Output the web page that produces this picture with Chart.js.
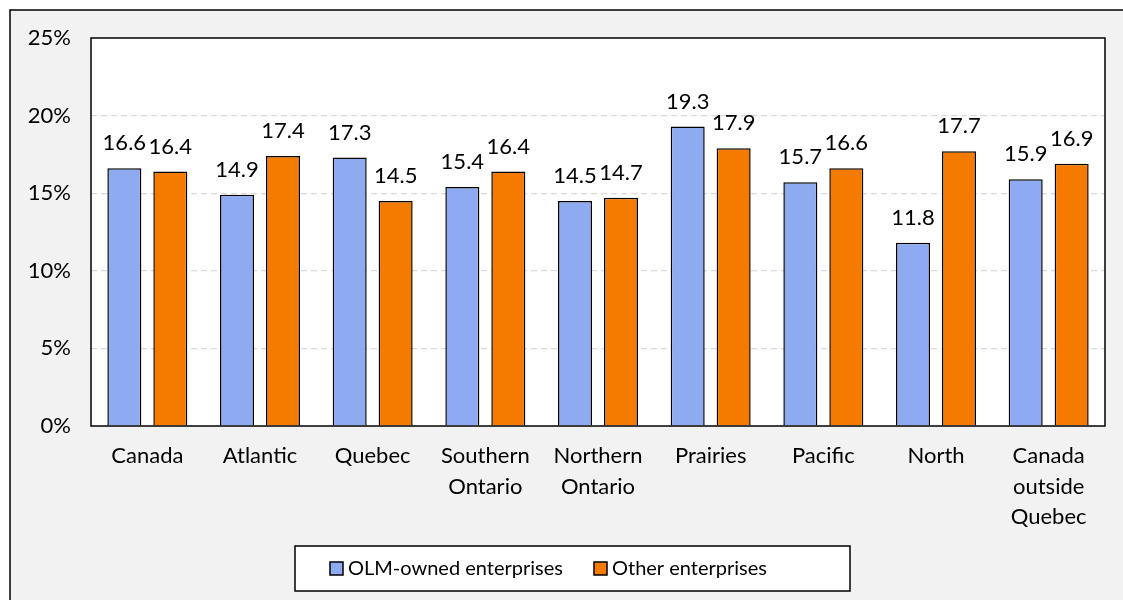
<!DOCTYPE html>
<html>
<head>
<meta charset="utf-8">
<script src="https://cdn.jsdelivr.net/npm/chart.js@4/dist/chart.umd.min.js"></script>
<style>
  html, body { margin:0; padding:0; background:#fff; }
  canvas { display:block; }
</style>
</head>
<body>
<canvas id="chart" width="1123" height="600"></canvas>
<script>
// data
const regions = ['Canada', 'Atlantic', 'Quebec', ['Southern', 'Ontario'], ['Northern', 'Ontario'],
  'Prairies', 'Pacific', 'North', ['Canada', 'outside', 'Quebec']];
const olmOwned = [16.6, 14.9, 17.3, 15.4, 14.5, 19.3, 15.7, 11.8, 15.9];
const otherEnt = [16.4, 17.4, 14.5, 16.4, 14.7, 17.9, 16.6, 17.7, 16.9];
const seriesNames = ['OLM-owned enterprises', 'Other enterprises'];
const yTicks = [0, 5, 10, 15, 20, 25];

const FONT = 'Lato, "Open Sans", sans-serif';
const BLUE = '#8eaaf0';
const ORANGE = '#f57a00';

// grey panel, plot frame, value labels and the boxed legend
const decor = {
  id: 'decor',
  beforeDraw(chart){
    const c = chart.ctx;
    c.save();
    c.fillStyle = '#f2f2f2';
    c.fillRect(10, 10, chart.width - 10, chart.height - 10);
    c.strokeStyle = '#000';
    c.lineWidth = 1.5;
    c.beginPath();
    c.moveTo(10, chart.height); c.lineTo(10, 10); c.lineTo(chart.width, 10);
    c.stroke();
    const a = chart.chartArea;
    c.fillStyle = '#fff';
    c.fillRect(a.left, a.top, a.right - a.left, a.bottom - a.top);
    c.restore();
  },
  afterDatasetsDraw(chart){
    const c = chart.ctx;
    const a = chart.chartArea;
    c.save();
    c.strokeStyle = '#000';
    c.lineWidth = 1.5;
    c.strokeRect(a.left, a.top, a.right - a.left, a.bottom - a.top);

    c.fillStyle = '#000';
    c.font = '22px ' + FONT;
    c.textAlign = 'center';
    c.textBaseline = 'middle';
    chart.data.datasets.forEach((ds, i) => {
      chart.getDatasetMeta(i).data.forEach((bar, j) => {
        c.fillText(ds.data[j].toFixed(1), bar.x, bar.y - 25);
      });
    });

    // legend box
    const lx = 295, ly = 546, lw = 555, lh = 45;
    c.fillStyle = '#fff';
    c.fillRect(lx, ly, lw, lh);
    c.strokeRect(lx, ly, lw, lh);
    const items = [{ x: 330, ds: chart.data.datasets[0] }, { x: 594, ds: chart.data.datasets[1] }];
    c.font = '20px ' + FONT;
    c.textAlign = 'left';
    items.forEach(it => {
      c.fillStyle = it.ds.backgroundColor;
      c.fillRect(it.x, 562, 13, 13);
      c.strokeStyle = '#000';
      c.lineWidth = 1.5;
      c.strokeRect(it.x, 562, 13, 13);
      c.fillStyle = '#000';
      c.fillText(it.ds.label, it.x + 18, 569);
    });
    c.restore();
  }
};

new Chart(document.getElementById('chart'), {
  type: 'bar',
  data: {
    labels: regions,
    datasets: [
      { label: seriesNames[0], data: olmOwned, backgroundColor: BLUE, borderColor: '#000', borderWidth: 1.5 },
      { label: seriesNames[1], data: otherEnt, backgroundColor: ORANGE, borderColor: '#000', borderWidth: 1.5 }
    ]
  },
  options: {
    responsive: false,
    animation: false,
    categoryPercentage: 0.816,
    barPercentage: 0.74,
    layout: { padding: { left: 0, top: 38, right: 18, bottom: 0 } },
    plugins: { legend: { display: false }, tooltip: { enabled: false } },
    scales: {
      x: {
        grid: { display: false },
        border: { display: false },
        ticks: { color: '#000', font: { family: FONT, size: 22, lineHeight: 1.38 }, padding: 7, maxRotation: 0, autoSkip: false },
        afterFit(s){ s.height = 174; }
      },
      y: {
        min: 0, max: 25,
        afterBuildTicks(s){ s.ticks = yTicks.map(v => ({ value: v })); },
        grid: {
          color: ctx => (ctx.tick && (ctx.tick.value === 0 || ctx.tick.value === 25)) ? 'rgba(0,0,0,0)' : '#d9d9d9',
          lineWidth: 1.2,
          drawTicks: false
        },
        border: { display: false, dash: [6, 4] },
        ticks: { color: '#000', font: { family: FONT, size: 22 }, padding: 20, callback: v => v + '%' },
        afterFit(s){ s.width = 91; }
      }
    }
  },
  plugins: [decor]
});
</script>
</body>
</html>
